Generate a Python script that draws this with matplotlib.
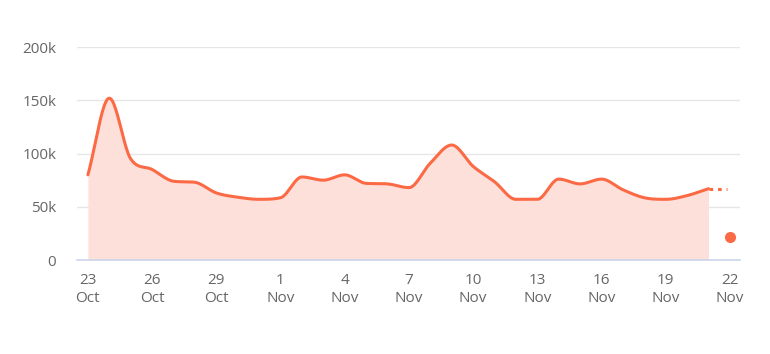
import numpy as np
import matplotlib
matplotlib.use("Agg")
import matplotlib.pyplot as plt

# Daily values, 23 Oct .. 21 Nov
values = [80, 152, 95, 85, 74, 73, 63, 59, 57, 58.5, 78, 75, 80, 72, 71.5, 68,
          91, 108, 88, 73.5, 57, 57, 76, 71.5, 76, 66, 58.5, 57, 60.5, 67]
values = [v * 1000 for v in values]
projected_value = 67000      # dotted continuation to 22 Nov
outlier_value = 22000        # single point on 22 Nov
tick_days = [0, 3, 6, 9, 12, 15, 18, 21, 24, 27, 30]
tick_labels = ["23\nOct", "26\nOct", "29\nOct", "1\nNov", "4\nNov", "7\nNov",
               "10\nNov", "13\nNov", "16\nNov", "19\nNov", "22\nNov"]
y_ticks = [0, 50000, 100000, 150000, 200000]
y_labels = ["0", "50k", "100k", "150k", "200k"]

LINE = "#fb6a45"
FILL = "#fee0db"

def smooth(x, y, n=24):
    """Cubic Hermite spline with Catmull-Rom tangents, no false extremes."""
    x = np.asarray(x, float); y = np.asarray(y, float)
    N = len(x)
    d = np.diff(y) / np.diff(x)
    m = np.zeros(N)
    m[0] = d[0]; m[-1] = d[-1]
    for i in range(1, N - 1):
        if d[i-1] * d[i] <= 0:
            m[i] = 0.0
        else:
            mi = 0.5 * (d[i-1] + d[i])
            lim = 3 * min(abs(d[i-1]), abs(d[i]))
            m[i] = np.sign(mi) * min(abs(mi), lim)
    xs, ys = [], []
    for i in range(N - 1):
        h = x[i+1] - x[i]
        s = np.linspace(0, 1, n, endpoint=(i == N - 2))
        h00 = 2*s**3 - 3*s**2 + 1; h10 = s**3 - 2*s**2 + s
        h01 = -2*s**3 + 3*s**2; h11 = s**3 - s**2
        xs.append(x[i] + s*h)
        ys.append(h00*y[i] + h10*h*m[i] + h01*y[i+1] + h11*h*m[i+1])
    return np.concatenate(xs), np.concatenate(ys)

days = np.arange(len(values))
sx, sy = smooth(days, values)

fig = plt.figure(figsize=(7.7, 3.54), dpi=100)
ax = fig.add_axes([0.1, 0.2655, 0.861, 0.6015])
ax.fill_between(sx, 0, sy, color=FILL, lw=0, zorder=1)
ax.plot(sx, sy, color=LINE, lw=2.2, zorder=3, solid_capstyle="round")
ax.plot([days[-1], days[-1] + 0.85], [values[-1], projected_value], color=LINE,
        lw=2.2, ls=(0, (1.2, 1.6)), zorder=3)
ax.plot([30], [outlier_value], "o", color=LINE, ms=8, mec="none", zorder=4)

ax.set_xlim(-0.51, 30.47)
ax.set_ylim(0, 200000)
ax.set_xticks(tick_days)
ax.set_xticklabels(tick_labels)
ax.set_yticks(y_ticks)
ax.set_yticklabels(y_labels)
for sp in ["top", "right", "left"]:
    ax.spines[sp].set_visible(False)
ax.spines["bottom"].set_color("#ccd6eb")
ax.spines["bottom"].set_linewidth(1.2)
ax.grid(axis="y", color="#e6e6e6", lw=1, zorder=0)
ax.set_axisbelow(True)
ax.tick_params(axis="both", length=0, labelsize=11, labelcolor="#666666")
ax.tick_params(axis="x", pad=9)
ax.tick_params(axis="y", pad=15)
for lab in ax.get_xticklabels() + ax.get_yticklabels():
    lab.set_family("Open Sans")
    lab.set_linespacing(1.3)

fig.savefig("out.png", dpi=100, facecolor="white")
